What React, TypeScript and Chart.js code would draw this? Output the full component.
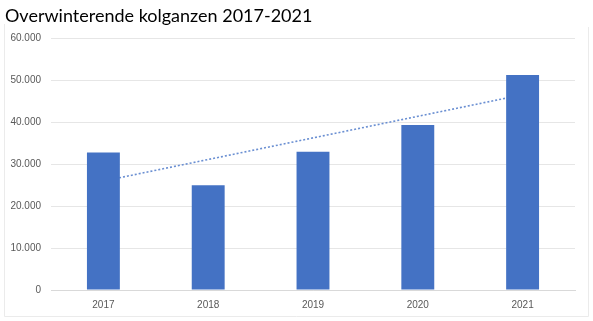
import React, { useEffect, useRef } from "react";
import { Chart, registerables } from "chart.js";

Chart.register(...registerables);

const categories = ["2017", "2018", "2019", "2020", "2021"];
const geese = [32800, 25000, 33000, 39400, 51300];
// dotted trendline as seen in the picture (start at 2017, end at 2021)
const trendline = [26000, null, null, null, 46600];
const yTicks = [0, 10000, 20000, 30000, 40000, 50000, 60000];
const title = "Overwinterende kolganzen 2017-2021";

const fmt = (v: number) => String(Math.round(v)).replace(/\B(?=(\d{3})+(?!\d))/g, ".");

const framePlugin = {
  id: "frame",
  beforeDraw(chart: any) {
    const { ctx, width, height } = chart;
    ctx.save();
    ctx.fillStyle = "#ffffff";
    ctx.fillRect(0, 0, width, height);
    ctx.strokeStyle = "#ebebeb";
    ctx.lineWidth = 1;
    ctx.beginPath();
    ctx.moveTo(4.5, 24);
    ctx.lineTo(4.5, 316.5);
    ctx.lineTo(588.5, 316.5);
    ctx.lineTo(588.5, 27);
    ctx.stroke();
    ctx.restore();
  },
};

export default function App() {
  const ref = useRef<HTMLCanvasElement | null>(null);
  useEffect(() => {
    if (!ref.current) return;
    const chart = new Chart(ref.current, {
      type: "bar",
      data: {
        labels: categories,
        datasets: [
          {
            type: "bar",
            data: geese,
            backgroundColor: "#4472C4",
            borderWidth: 0,
            barPercentage: 0.314,
            categoryPercentage: 1,
            order: 1,
          },
          {
            type: "line",
            data: trendline as any,
            borderColor: "#6a8fd2",
            borderWidth: 1.6,
            borderDash: [2, 2],
            pointRadius: 0,
            spanGaps: true,
            fill: false,
            order: 2,
          },
        ],
      },
      options: {
        animation: false,
        responsive: false,
        devicePixelRatio: 1,
        layout: { padding: { left: 5, right: 18, top: 0, bottom: 0 } },
        plugins: {
          legend: { display: false },
          tooltip: { enabled: false },
          title: {
            display: true,
            text: title,
            align: "start",
            color: "#000000",
            font: { family: "Lato", size: 18, weight: "normal" },
            padding: { top: 5, bottom: 12 },
          },
        },
        scales: {
          x: {
            grid: { display: false, drawTicks: false },
            border: { display: true, color: "#d9d9d9", width: 1 },
            ticks: {
              color: "#595959",
              font: { family: "Liberation Sans", size: 10 },
              padding: 9,
            },
            afterFit: (s: any) => {
              s.height = 31;
            },
          },
          y: {
            min: 0,
            max: 60000,
            afterBuildTicks: (s: any) => {
              s.ticks = yTicks.map((v) => ({ value: v }));
            },
            grid: { color: "#e6e6e6", drawTicks: false, lineWidth: 1 },
            border: { display: false },
            ticks: {
              color: "#595959",
              font: { family: "Liberation Sans", size: 10 },
              padding: 10,
              callback: (v: any) => fmt(Number(v)),
            },
            afterFit: (s: any) => {
              s.width = 46;
            },
          },
        },
      },
      plugins: [framePlugin],
    });
    return () => chart.destroy();
  }, []);
  return (
    <div style={{ position: "fixed", left: 0, top: 0, width: 593, height: 321, background: "#fff" }}>
      <canvas ref={ref} width={593} height={321} style={{ display: "block" }} />
    </div>
  );
}
